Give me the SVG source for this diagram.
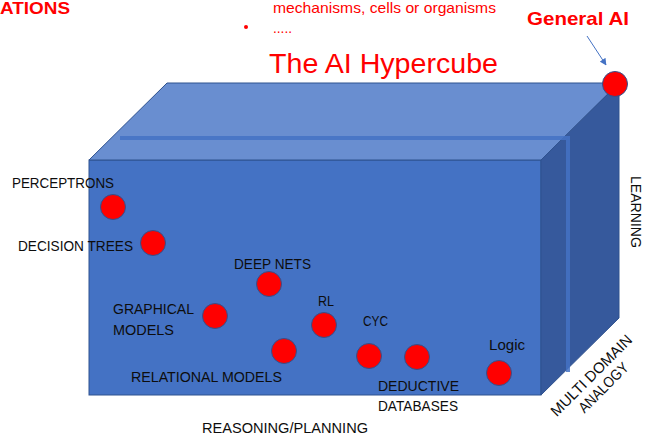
<svg xmlns="http://www.w3.org/2000/svg" width="645" height="438" viewBox="0 0 645 438">
<defs>
<style>
.lbl{font-family:"Liberation Sans",Arial,sans-serif;font-size:15px;fill:#0d0d0d}
.red{font-family:"Liberation Sans",Arial,sans-serif;fill:#ff0000}
.dot{fill:#ff0000;stroke:#2f528f;stroke-width:1}
.edge{stroke:#2f528f;stroke-width:1}
</style>
<marker id="ah" viewBox="0 0 10 10" refX="9" refY="5" markerWidth="7" markerHeight="7" orient="auto-start-reverse" markerUnits="userSpaceOnUse">
<path d="M0,0 L10,5 L0,10 z" fill="#4472c4"/>
</marker>
</defs>
<rect width="645" height="438" fill="#ffffff"/>

<g id="header">
<text class="red" x="0" y="14" font-size="16.5" font-weight="bold" textLength="70" lengthAdjust="spacingAndGlyphs">ATIONS</text>
<circle cx="246" cy="27" r="2" fill="#ff0000"/>
<text class="red" x="273" y="13" font-size="15" textLength="223" lengthAdjust="spacingAndGlyphs">mechanisms, cells or organisms</text>
<text class="red" x="273" y="33" font-size="15" textLength="19" lengthAdjust="spacingAndGlyphs">.....</text>
<text class="red" x="269" y="73" font-size="28" textLength="229" lengthAdjust="spacingAndGlyphs">The AI Hypercube</text>
</g>

<g id="cube">
<rect x="89" y="160" width="452" height="235" fill="#4472c4" class="edge"/>
<polygon points="89,160 167,83 619,83 541,160" fill="#698ed0" class="edge"/>
<polygon points="541,160 619,83 619,318 541,395" fill="#36599c" class="edge"/>
<path d="M120,138 H568 V372" fill="none" stroke="#4472c4" stroke-width="4" opacity="0.85"/>
</g>

<g id="connectors">
<line x1="587" y1="36" x2="606" y2="65" stroke="#4472c4" stroke-width="1" marker-end="url(#ah)"/>
</g>

<g id="general-ai">
<text class="red" x="527" y="25" font-size="19" font-weight="bold" textLength="102" lengthAdjust="spacingAndGlyphs">General AI</text>
<circle class="dot" cx="615" cy="84" r="12.5"/>
</g>

<g id="perceptrons">
<text class="lbl" x="12" y="188" textLength="102" lengthAdjust="spacingAndGlyphs">PERCEPTRONS</text>
<circle class="dot" cx="113" cy="207" r="12.5"/>
</g>
<g id="decision-trees">
<text class="lbl" x="18" y="251" textLength="115" lengthAdjust="spacingAndGlyphs">DECISION TREES</text>
<circle class="dot" cx="153" cy="243" r="12.5"/>
</g>
<g id="deep-nets">
<text class="lbl" x="234" y="269" textLength="77" lengthAdjust="spacingAndGlyphs">DEEP NETS</text>
<circle class="dot" cx="269" cy="284" r="12.5"/>
</g>
<g id="graphical-models">
<text class="lbl" x="113" y="314" textLength="81" lengthAdjust="spacingAndGlyphs">GRAPHICAL</text>
<text class="lbl" x="113" y="335" textLength="61" lengthAdjust="spacingAndGlyphs">MODELS</text>
<circle class="dot" cx="215" cy="316" r="12.5"/>
</g>
<g id="rl">
<text class="lbl" x="318" y="306" textLength="16" lengthAdjust="spacingAndGlyphs">RL</text>
<circle class="dot" cx="324" cy="325" r="12.5"/>
</g>
<g id="relational-models">
<text class="lbl" x="131" y="382" textLength="151" lengthAdjust="spacingAndGlyphs">RELATIONAL MODELS</text>
<circle class="dot" cx="284" cy="351" r="12.5"/>
</g>
<g id="cyc">
<text class="lbl" x="363" y="326" textLength="25" lengthAdjust="spacingAndGlyphs">CYC</text>
<circle class="dot" cx="369" cy="356" r="12.5"/>
</g>
<g id="deductive-databases">
<text class="lbl" x="378" y="391" textLength="81" lengthAdjust="spacingAndGlyphs">DEDUCTIVE</text>
<text class="lbl" x="378" y="411" textLength="80" lengthAdjust="spacingAndGlyphs">DATABASES</text>
<circle class="dot" cx="417" cy="357" r="12.5"/>
</g>
<g id="logic">
<text class="lbl" x="489" y="350" textLength="36" lengthAdjust="spacingAndGlyphs">Logic</text>
<circle class="dot" cx="499" cy="373" r="12.5"/>
</g>

<g id="axes">
<text class="lbl" x="202" y="433" textLength="166" lengthAdjust="spacingAndGlyphs">REASONING/PLANNING</text>
<text class="lbl" x="0" y="0" transform="translate(631,176) rotate(90)" textLength="72" lengthAdjust="spacingAndGlyphs">LEARNING</text>
<g transform="translate(595,379) rotate(-45)">
<text class="lbl" x="0" y="0" text-anchor="middle" textLength="108" lengthAdjust="spacingAndGlyphs">MULTI DOMAIN</text>
<text class="lbl" x="0" y="17" text-anchor="middle" textLength="64" lengthAdjust="spacingAndGlyphs">ANALOGY</text>
</g>
</g>
</svg>
